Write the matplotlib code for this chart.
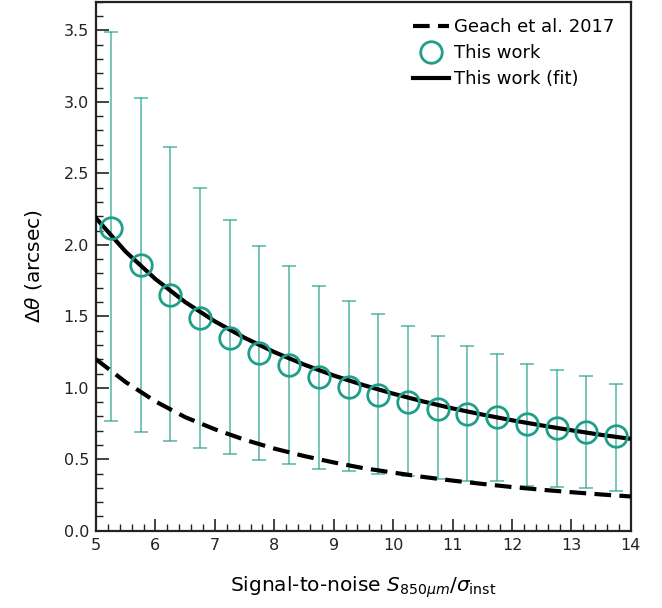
import matplotlib
matplotlib.use("Agg")
import matplotlib.pyplot as plt
from matplotlib.ticker import MultipleLocator

# Measured points (This work)
snr = [5.25, 5.75, 6.25, 6.75, 7.25, 7.75, 8.25, 8.75, 9.25, 9.75,
       10.25, 10.75, 11.25, 11.75, 12.25, 12.75, 13.25, 13.75]
dtheta = [2.12, 1.86, 1.65, 1.49, 1.35, 1.245, 1.16, 1.075, 1.005, 0.95,
          0.90, 0.855, 0.82, 0.795, 0.745, 0.72, 0.69, 0.66]
err_hi = [3.49, 3.03, 2.685, 2.40, 2.175, 1.995, 1.85, 1.715, 1.605, 1.515,
          1.435, 1.36, 1.29, 1.24, 1.17, 1.125, 1.08, 1.025]
err_lo = [0.765, 0.69, 0.63, 0.58, 0.535, 0.495, 0.47, 0.435, 0.42, 0.40,
          0.38, 0.36, 0.35, 0.35, 0.31, 0.305, 0.30, 0.28]

# Curves
curve_x = [5.0, 5.5, 6.0, 6.5, 7.0, 7.5, 8.0, 8.5, 9.0, 9.5,
           10.0, 10.5, 11.0, 11.5, 12.0, 12.5, 13.0, 13.5, 14.0]
geach = [1.20, 1.04, 0.905, 0.795, 0.71, 0.637, 0.575, 0.523, 0.478, 0.438,
         0.407, 0.377, 0.351, 0.328, 0.306, 0.287, 0.27, 0.254, 0.24]
fit = [2.187, 1.952, 1.761, 1.60, 1.465, 1.35, 1.25, 1.163, 1.086, 1.019,
       0.959, 0.905, 0.856, 0.813, 0.773, 0.737, 0.703, 0.671, 0.643]

teal = '#1f9e89'

fig = plt.figure(figsize=(6.62, 6.08), dpi=100)
ax = fig.add_axes([0.145, 0.127, 0.808, 0.870])

yerr = [[d - l for d, l in zip(dtheta, err_lo)], [h - d for h, d in zip(err_hi, dtheta)]]
ax.errorbar(snr, dtheta, yerr=yerr, fmt='none', ecolor=teal, alpha=0.7,
            elinewidth=1.2, capsize=5, capthick=1.2, zorder=2)
ax.plot(curve_x, geach, ls=(0, (4, 2)), color='black', lw=3, label='Geach et al. 2017', zorder=3)
ax.plot(snr, dtheta, ls='none', marker='o', ms=15.5, mfc='none', mec=teal, mew=2.0,
        label='This work', zorder=4)
ax.plot(curve_x, fit, color='black', lw=3, label='This work (fit)', zorder=3)

ax.set_xlim(5, 14)
ax.set_ylim(0, 3.7)
ax.xaxis.set_major_locator(MultipleLocator(1))
ax.xaxis.set_minor_locator(MultipleLocator(0.2))
ax.yaxis.set_major_locator(MultipleLocator(0.5))
ax.yaxis.set_minor_locator(MultipleLocator(0.1))
ax.tick_params(which='both', direction='in', top=False, right=False, labelsize=11.5, colors='#222222')
ax.tick_params(which='major', length=9, width=1.2, pad=5)
ax.tick_params(which='minor', length=5, width=1.0)
for s in ax.spines.values():
    s.set_linewidth(1.6)
    s.set_color('#222222')

ax.set_xlabel(r'Signal-to-noise $S_{850\mu m}/\sigma_{\rm inst}$', fontsize=14.5, labelpad=16)
ax.set_ylabel(r'$\Delta\theta$ (arcsec)', fontsize=14.5, labelpad=14)

ax.legend(loc='upper right', bbox_to_anchor=(0.99, 0.99), frameon=False, fontsize=13,
          handlelength=2.0, handletextpad=0.3, labelspacing=0.45, borderaxespad=0.3, borderpad=0.3)

fig.savefig('out.png', dpi=100)
